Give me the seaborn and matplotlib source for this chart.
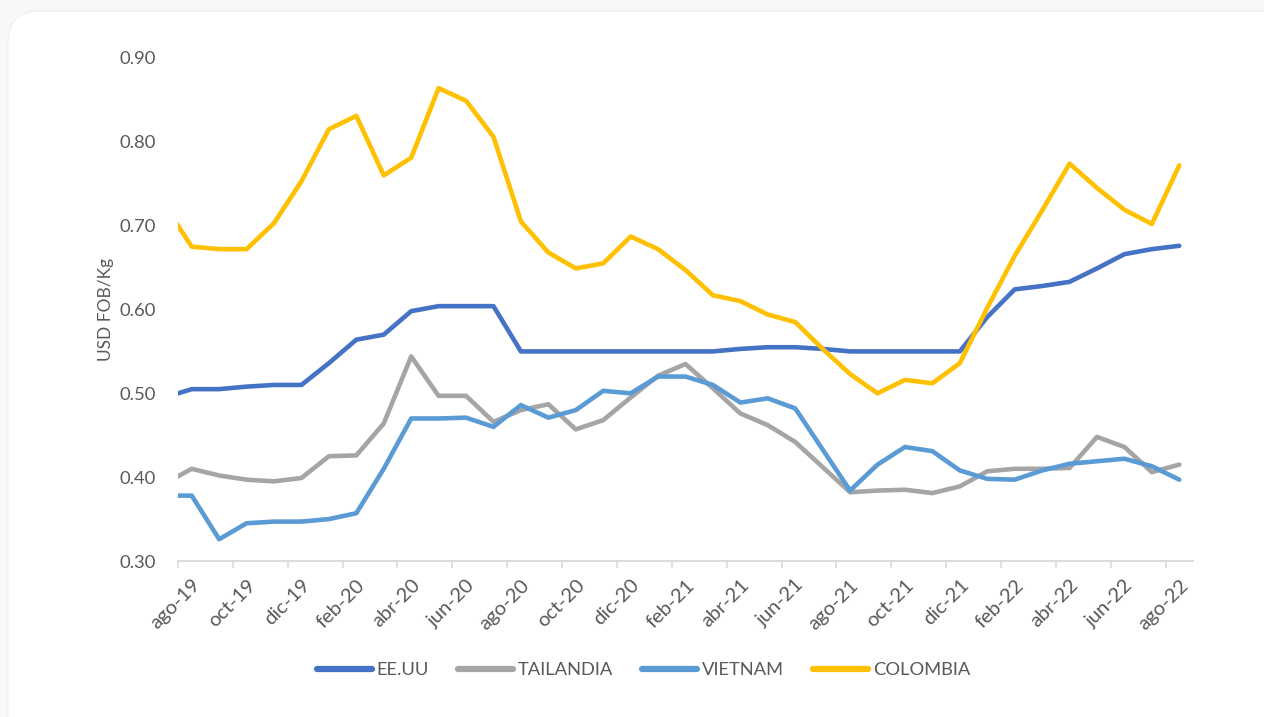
import pandas as pd
import numpy as np
import matplotlib.pyplot as plt
import seaborn as sns
from matplotlib.patches import FancyBboxPatch

# Meses (jul-19 queda fuera del eje, solo se ve el tramo recortado)
meses = ["jul-19",
         "ago-19", "sep-19", "oct-19", "nov-19", "dic-19",
         "ene-20", "feb-20", "mar-20", "abr-20", "may-20", "jun-20", "jul-20",
         "ago-20", "sep-20", "oct-20", "nov-20", "dic-20",
         "ene-21", "feb-21", "mar-21", "abr-21", "may-21", "jun-21", "jul-21",
         "ago-21", "sep-21", "oct-21", "nov-21", "dic-21",
         "ene-22", "feb-22", "mar-22", "abr-22", "may-22", "jun-22", "jul-22",
         "ago-22"]

eeuu = [0.495,
        0.505, 0.505, 0.508, 0.510, 0.510,
        0.536, 0.564, 0.570, 0.598, 0.604, 0.604, 0.604,
        0.550, 0.550, 0.550, 0.550, 0.550,
        0.550, 0.550, 0.550, 0.553, 0.555, 0.555, 0.553,
        0.550, 0.550, 0.550, 0.550, 0.550,
        0.591, 0.624, 0.628, 0.633, 0.649, 0.666, 0.672,
        0.676]

tailandia = [0.392,
             0.410, 0.402, 0.397, 0.395, 0.399,
             0.425, 0.426, 0.464, 0.544, 0.497, 0.497, 0.466,
             0.480, 0.487, 0.457, 0.468, 0.495,
             0.521, 0.535, 0.506, 0.476, 0.462, 0.442, 0.412,
             0.382, 0.384, 0.385, 0.381, 0.389,
             0.407, 0.410, 0.410, 0.411, 0.448, 0.436, 0.406,
             0.415]

vietnam = [0.378,
           0.378, 0.326, 0.345, 0.347, 0.347,
           0.350, 0.357, 0.410, 0.470, 0.470, 0.471, 0.460,
           0.486, 0.471, 0.480, 0.503, 0.500,
           0.520, 0.520, 0.510, 0.489, 0.494, 0.482, 0.433,
           0.384, 0.415, 0.436, 0.431, 0.408,
           0.398, 0.397, 0.408, 0.416, 0.419, 0.422, 0.413,
           0.397]

colombia = [0.725,
            0.675, 0.672, 0.672, 0.703, 0.753,
            0.815, 0.831, 0.760, 0.781, 0.864, 0.849, 0.806,
            0.705, 0.668, 0.649, 0.655, 0.687,
            0.672, 0.647, 0.617, 0.610, 0.594, 0.585, 0.553,
            0.523, 0.500, 0.516, 0.512, 0.536,
            0.602, 0.664, 0.718, 0.774, 0.745, 0.719, 0.702,
            0.772]

series = ["EE.UU", "TAILANDIA", "VIETNAM", "COLOMBIA"]
colores = {"EE.UU": "#4472C4", "TAILANDIA": "#A5A5A5",
           "VIETNAM": "#5B9BD5", "COLOMBIA": "#FFC000"}

idx = np.arange(len(meses)) - 1
df = pd.concat([
    pd.DataFrame({"mes": idx, "pais": nombre, "valor": vals})
    for nombre, vals in zip(series, [eeuu, tailandia, vietnam, colombia])
], ignore_index=True)

sns.set_theme(style="white")
plt.rcParams["font.family"] = ["Lato", "DejaVu Sans"]
gris_txt = "#595959"

fig = plt.figure(figsize=(12.64, 7.17), dpi=100)
fig.patch.set_facecolor("#f8f8f8")
tarjeta = FancyBboxPatch((8 / 1264, -0.05), 1.2, 1.05 - 11 / 717,
                         boxstyle="round,pad=0,rounding_size=0.025",
                         transform=fig.transFigure, facecolor="white",
                         edgecolor="#f0f0f0", linewidth=1, zorder=-10,
                         mutation_aspect=1264 / 717)
fig.patches.append(tarjeta)

ax = fig.add_axes([178 / 1264, 1 - 561 / 717, (1193 - 178) / 1264, (561 - 58) / 717])
ax.set_facecolor("none")
ax.set_zorder(5)

sns.lineplot(data=df, x="mes", y="valor", hue="pais", hue_order=series,
             palette=colores, linewidth=3.3, ax=ax, legend=False,
             solid_joinstyle="round", solid_capstyle="round")

ax.set_xlim(-0.5, 36.5)
ax.set_ylim(0.30, 0.90)
ax.set_yticks(np.arange(0.30, 0.901, 0.10))
ax.set_yticklabels([f"{v:.2f}" for v in np.arange(0.30, 0.901, 0.10)])

ax.set_xticks(np.arange(0, 37, 2))
ax.set_xticklabels(meses[1::2], rotation=45, ha="right", rotation_mode="anchor")
ax.set_xticks(np.arange(-0.5, 36, 2), minor=True)
ax.tick_params(axis="x", which="major", length=0, pad=11, labelsize=14.5, labelcolor=gris_txt)
ax.tick_params(axis="x", which="minor", length=5, width=1.2, color="#d9d9d9", bottom=True)
ax.tick_params(axis="y", length=0, pad=16, labelsize=13.3, labelcolor=gris_txt)

for lado in ["top", "right", "left"]:
    ax.spines[lado].set_visible(False)
ax.spines["bottom"].set_color("#d9d9d9")
ax.spines["bottom"].set_linewidth(1.3)

ax.set_xlabel("")
ax.set_ylabel("USD FOB/Kg", fontsize=12.5, color=gris_txt, labelpad=4)

handles = [plt.Line2D([], [], color=colores[s], linewidth=4.5, solid_capstyle="round")
           for s in series]
leg = fig.legend(handles, series, loc="center", bbox_to_anchor=(0.509, 1 - 670 / 717),
                 ncol=4, frameon=False, fontsize=13.2, handlelength=3.0,
                 handletextpad=0.25, columnspacing=1.6)
for t in leg.get_texts():
    t.set_color(gris_txt)

fig.savefig("out.png", dpi=100, facecolor=fig.get_facecolor())
plt.close()
